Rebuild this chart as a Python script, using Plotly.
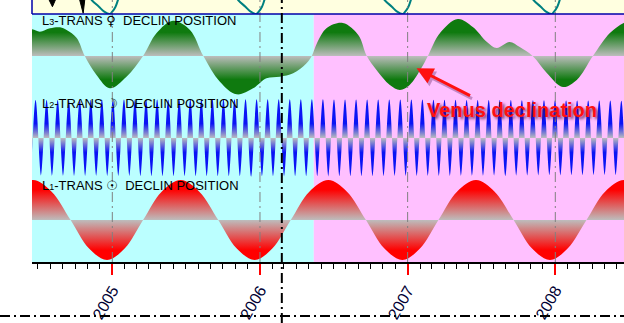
import pandas as pd
import plotly.graph_objects as go

# ------------------------------------------------------------------ data
year_ticks = ["2005-01-01", "2006-01-01", "2007-01-01", "2008-01-01"]
year_labels = ["2005", "2006", "2007", "2008"]
x_range = ["2004-06-16 12:00", "2008-06-18 19:00"]
phase_change = "2006-05-14"      # cyan -> pink background
cursor_date = "2006-02-24"       # black dash-dot cursor

# L1: Sun declination (degrees)
sun_dates = [
    "2004-05-03", "2004-06-19", "2004-08-04", "2004-09-20", "2004-11-04", "2004-12-19",
    "2005-02-01", "2005-03-18", "2005-05-03", "2005-06-19", "2005-08-04", "2005-09-20",
    "2005-11-04", "2005-12-19", "2006-02-01", "2006-03-18", "2006-05-03", "2006-06-19",
    "2006-08-04", "2006-09-20", "2006-11-04", "2006-12-19", "2007-02-01", "2007-03-18",
    "2007-05-03", "2007-06-19", "2007-08-04", "2007-09-20", "2007-11-04", "2007-12-19",
    "2008-02-01", "2008-03-18", "2008-05-03", "2008-06-19", "2008-08-04",
]
sun_decl = [
    16.6, 23.44, 16.6, 0.0, -16.6, -23.44,
    -16.6, 0.0, 16.6, 23.44, 16.6, 0.0,
    -16.6, -23.44, -16.6, 0.0, 16.6, 23.44,
    16.6, 0.0, -16.6, -23.44, -16.6, 0.0,
    16.6, 23.44, 16.6, 0.0, -16.6, -23.44,
    -16.6, 0.0, 16.6, 23.44, 16.6,
]

# L3: Venus declination (degrees)
venus_dates = [
    "2004-06-01", "2004-06-17", "2004-07-06", "2004-07-31", "2004-08-25", "2004-09-10",
    "2004-10-05", "2004-10-25", "2004-11-23", "2004-12-26", "2005-02-05", "2005-03-18",
    "2005-04-20", "2005-05-31", "2005-07-12", "2005-08-14", "2005-09-24", "2005-11-04",
    "2005-12-15", "2006-01-17", "2006-02-19", "2006-03-24", "2006-04-26", "2006-05-09",
    "2006-05-22", "2006-06-15", "2006-07-25", "2006-09-01", "2006-09-22", "2006-10-16",
    "2006-11-18", "2006-12-13", "2007-01-06", "2007-02-04", "2007-02-20", "2007-03-22",
    "2007-05-05", "2007-06-11", "2007-07-16", "2007-08-09", "2007-09-10", "2007-10-05",
    "2007-11-06", "2007-12-11", "2008-01-20", "2008-02-23", "2008-04-03", "2008-05-15",
    "2008-06-18", "2008-07-10",
]
venus_decl = [
    19.5, 19.1, 17.4, 19.8, 20.5, 18.6,
    12.9, 0.0, -13.6, -23.1, -14.8, 0.0,
    16.2, 25.2, 18.6, 0.0, -18.4, -27.4,
    -23.1, -15.9, -14.8, -12.4, -5.2, 0.0,
    9.3, 20.0, 23.6, 15.0, 0.0, -10.0,
    -20.7, -24.3, -20.7, -8.6, 0.0, 16.4,
    26.4, 20.7, 10.0, 5.7, 10.0, 6.4,
    0.0, -12.1, -22.1, -17.1, 0.0, 16.4,
    23.6, 25.5,
]

# L2: Moon declination extremes (alternating north / south, every half tropical month)
moon_first_extreme = "2004-05-29"
moon_half_month_days = 13.66
moon_decl = [
    28.1, -28.1, 28.2, -28.2, 28.2, -28.3, 28.3, -28.3, 28.3, -28.4,
    28.4, -28.4, 28.4, -28.4, 28.5, -28.5, 28.5, -28.5, 28.5, -28.5,
    28.5, -28.6, 28.6, -28.6, 28.6, -28.6, 28.6, -28.6, 28.6, -28.6,
    28.7, -28.7, 28.7, -28.7, 28.7, -28.7, 28.7, -28.7, 28.7, -28.7,
    28.7, -28.7, 28.7, -28.7, 28.7, -28.7, 28.7, -28.7, 28.7, -28.7,
    28.7, -28.7, 28.7, -28.7, 28.7, -28.7, 28.6, -28.6, 28.6, -28.6,
    28.6, -28.6, 28.6, -28.6, 28.6, -28.6, 28.5, -28.5, 28.5, -28.5,
    28.5, -28.5, 28.5, -28.4, 28.4, -28.4, 28.4, -28.4, 28.4, -28.3,
    28.3, -28.3, 28.3, -28.3, 28.2, -28.2, 28.2, -28.2, 28.2, -28.1,
    28.1, -28.1, 28.1, -28.0, 28.0, -28.0, 28.0, -28.0, 27.9, -27.9,
    27.9, -27.9, 27.9, -27.8, 27.8, -27.8, 27.8, -27.8, 27.7, -27.7,
    27.7, -27.7,
]

# top strip: troughs of the curve from the panel above (teal) and two black spikes
teal_dates = [
    "2004-10-28", "2004-11-11", "2004-11-29", "2004-12-12", "2004-12-26", "2005-01-01", "2005-01-09", "2005-01-15", "2005-01-22", None,
    "2005-10-25", "2005-11-08", "2005-11-26", "2005-12-09", "2005-12-23", "2005-12-29", "2006-01-06", "2006-01-12", "2006-01-19", None,
    "2006-10-22", "2006-11-05", "2006-11-23", "2006-12-06", "2006-12-20", "2006-12-26", "2007-01-03", "2007-01-09", "2007-01-16", None,
    "2007-10-25", "2007-11-08", "2007-11-26", "2007-12-09", "2007-12-23", "2007-12-29", "2008-01-06", "2008-01-12", "2008-01-19",
]
teal_vals = [
    1.6, 1.0, 0.52, 0.17, 0.0, 0.17, 0.52, 1.0, 1.6, None,
    1.6, 1.0, 0.52, 0.17, 0.0, 0.17, 0.52, 1.0, 1.6, None,
    1.6, 1.0, 0.52, 0.17, 0.0, 0.17, 0.52, 1.0, 1.6, None,
    1.6, 1.0, 0.52, 0.17, 0.0, 0.17, 0.52, 1.0, 1.6,
]
spike_dates = ["2004-07-28", "2004-08-06", "2004-08-14", None, "2004-10-12", "2004-10-21", "2004-10-25"]
spike_vals = [1.05, 0.52, 1.05, None, 1.05, 0.05, 1.05]

annotation_date = "2007-01-23"
annotation_decl = -8.8

# ------------------------------------------------------------------ layout helpers
PLOT_H = 262.0  # pixel height of plotting area
def py(px):      # pixel row (from top of plot) -> paper fraction
    return (PLOT_H - px) / PLOT_H

strip_bottom = py(14)
sun_dom = [0.0, py(178)]
moon_dom = [py(178), py(98)]
venus_dom = [py(98), strip_bottom]
strip_dom = [strip_bottom, 1.0]

SUN_R, MOON_R, VENUS_R = 24.6, 29.7, 30.0
GRAY = "#bdbdbd"

def grad(col, edge):
    return [[0, col], [edge, col], [0.5, GRAY], [1 - edge, col], [1, col]]

moon_dates = pd.date_range(moon_first_extreme, periods=len(moon_decl),
                           freq=pd.Timedelta(days=moon_half_month_days))

fig = go.Figure()

fig.add_trace(go.Scatter(
    x=sun_dates, y=sun_decl, xaxis="x", yaxis="y", mode="lines",
    line=dict(width=0, shape="spline", color="red"), fill="tozeroy",
    fillgradient=dict(type="vertical", colorscale=grad("#ff0000", 0.14),
                      start=-SUN_R, stop=SUN_R),
    hoverinfo="skip"))

fig.add_trace(go.Scatter(
    x=moon_dates, y=moon_decl, xaxis="x", yaxis="y2", mode="lines",
    line=dict(width=0, shape="spline", color="blue"), fill="tozeroy",
    fillgradient=dict(type="vertical", colorscale=grad("#0a14f5", 0.32),
                      start=-MOON_R, stop=MOON_R),
    hoverinfo="skip"))

fig.add_trace(go.Scatter(
    x=venus_dates, y=venus_decl, xaxis="x", yaxis="y3", mode="lines",
    line=dict(width=0, shape="spline", color="green"), fill="tozeroy",
    fillgradient=dict(type="vertical", colorscale=grad("#0f7a0f", 0.22),
                      start=-VENUS_R, stop=VENUS_R),
    hoverinfo="skip"))

fig.add_trace(go.Scatter(
    x=teal_dates, y=teal_vals, xaxis="x", yaxis="y4", mode="lines",
    line=dict(width=2, shape="spline", color="#008080"), connectgaps=False,
    hoverinfo="skip"))

fig.add_trace(go.Scatter(
    x=spike_dates, y=spike_vals, xaxis="x", yaxis="y4", mode="lines",
    line=dict(width=1, color="black"), fill="toself", fillcolor="black",
    hoverinfo="skip"))

# ------------------------------------------------------------------ shapes
dash = "10px,4px,2px,4px"
shapes = [
    dict(type="rect", xref="paper", yref="paper", x0=0, x1=1, y0=strip_bottom, y1=1,
         fillcolor="#ffffe0", line=dict(width=0), layer="below"),
    dict(type="rect", xref="x", yref="paper", x0="2004-01-01", x1=phase_change,
         y0=0, y1=strip_bottom, fillcolor="#bbffff", line=dict(width=0), layer="below"),
    dict(type="rect", xref="x", yref="paper", x0=phase_change, x1="2009-01-01",
         y0=0, y1=strip_bottom, fillcolor="#ffc0ff", line=dict(width=0), layer="below"),
]
for d in year_ticks:
    shapes.append(dict(type="line", xref="x", yref="paper", x0=d, x1=d, y0=0, y1=1,
                       line=dict(color="#808080", width=1, dash=dash), layer="above"))
shapes += [
    dict(type="line", xref="paper", yref="paper", x0=0, x1=1, y0=strip_bottom, y1=strip_bottom,
         line=dict(color="#0000a8", width=1.5), layer="above"),
    dict(type="line", xref="paper", yref="paper", x0=0, x1=0, y0=strip_bottom, y1=1,
         line=dict(color="#0000a8", width=1.5), layer="above"),
    dict(type="line", xref="x", yref="paper", x0=cursor_date, x1=cursor_date,
         y0=py(323), y1=1, line=dict(color="black", width=2, dash=dash), layer="above"),
    dict(type="line", xref="paper", yref="paper", x0=-32 / 592, x1=1, y0=py(316), y1=py(316),
         line=dict(color="black", width=2, dash=dash), layer="above"),
]

# ------------------------------------------------------------------ annotations
lab_font = dict(family="Liberation Sans, Arial, DejaVu Sans", size=13, color="black")
def band_label(num, sym, ypx):
    return dict(xref="paper", yref="paper", x=8 / 592, y=py(ypx), xanchor="left",
                yanchor="middle", showarrow=False, font=lab_font,
                text=(f"L<span style='font-size:9px'>{num}</span>-TRANS "
                      f"<span style='font-family:DejaVu Sans;font-size:13px'>{sym}</span>"
                      f"  DECLIN POSITION"))

annotations = [
    band_label(3, "\u2640", 21),
    band_label(2, "\u263d", 103),
    band_label(1, "\u2609", 185),
    # arrow shadow
    dict(x=annotation_date, y=annotation_decl, xref="x", yref="y3", text="",
         showarrow=True, ax=55, ay=28, arrowhead=2, arrowsize=1.1, arrowwidth=3,
         arrowcolor="rgba(90,30,90,0.35)", standoff=0, xshift=2, yshift=-3),
    dict(x=annotation_date, y=annotation_decl, xref="x", yref="y3", text="",
         showarrow=True, ax=55, ay=28, arrowhead=2, arrowsize=1.1, arrowwidth=3,
         arrowcolor="#ff1010", standoff=0),
    dict(xref="paper", yref="paper", x=(511.5 - 32) / 592, y=py(110), xanchor="center",
         yanchor="middle", showarrow=False, text="<b>Venus declination</b>",
         font=dict(family="Liberation Sans, Arial", size=20, color="#ff1010",
                   shadow="2px 2px 3px rgba(70,10,70,0.75)")),
]

hidden = dict(visible=False, fixedrange=True, anchor="x")
fig.update_layout(
    width=624, height=323,
    margin=dict(l=32, r=0, t=0, b=61, pad=0),
    paper_bgcolor="white", plot_bgcolor="rgba(0,0,0,0)",
    showlegend=False,
    xaxis=dict(type="date", range=x_range, anchor="y",
               tickvals=year_ticks, ticktext=year_labels,
               ticks="outside", ticklen=11, tickcolor="red", tickwidth=1.5,
               tickangle=-60,
               tickfont=dict(family="Liberation Sans, Arial", size=16, color="#000033"),
               showline=True, linecolor="black", linewidth=1.5,
               showgrid=False, zeroline=False,
               minor=dict(dtick="M1", tick0="2004-07-01", ticks="outside", ticklen=5,
                          tickcolor="black", tickwidth=1, showgrid=False)),
    yaxis=dict(domain=sun_dom, range=[-SUN_R, SUN_R], **hidden),
    yaxis2=dict(domain=moon_dom, range=[-MOON_R, MOON_R], **hidden),
    yaxis3=dict(domain=venus_dom, range=[-VENUS_R, VENUS_R], **hidden),
    yaxis4=dict(domain=strip_dom, range=[0, 1], **hidden),
    shapes=shapes,
    annotations=annotations,
)

fig.write_html("out.html")
